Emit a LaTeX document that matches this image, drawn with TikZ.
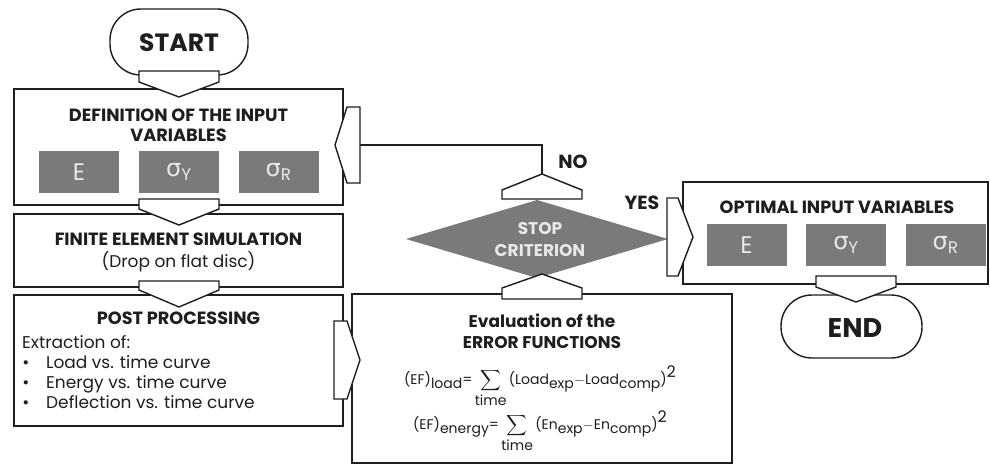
\documentclass[tikz,border=0pt]{standalone}
\usepackage{fontspec}
\usepackage{amsmath}
\setmainfont{Poppins}
\newfontfamily\dvs{DejaVu Sans}
\usetikzlibrary{calc}
\definecolor{gb}{HTML}{7A7A7A}
\definecolor{gt}{HTML}{E8E8E8}
\definecolor{ln}{HTML}{1E1E1E}
\newcommand\varrow[4]{\draw[parr] ({#1-40},#2) -- ({#1+40},#2) -- ({#1+40},#3) -- (#1,#4) -- ({#1-40},#3) -- cycle;}
\newcommand\harrow[5]{\draw[parr] (#2,{#1-#5}) -- (#3,{#1-#5}) -- (#4,#1) -- (#3,{#1+#5}) -- (#2,{#1+#5}) -- cycle;}
\newcommand\sig[1]{{\dvs σ}\textsubscript{#1}}
\newcommand\dn[1]{\raisebox{-4pt}{#1}}
\newcommand\tsum{$\displaystyle\mathop{\sum}\limits_{\mbox{\fontsize{14}{14}\selectfont time}}$}
\begin{document}
\begin{tikzpicture}[x=1pt,y=-1pt,
  box/.style={draw=ln, line width=1.4pt, fill=white, inner sep=0pt},
  pill/.style={draw=ln, line width=1.4pt, fill=white, inner sep=0pt, rounded corners=31pt},
  gbox/.style={fill=gb, inner sep=0pt, minimum width=80pt, minimum height=42pt, text=gt, font=\fontsize{24}{24}\selectfont},
  parr/.style={draw=ln, line width=1.4pt, fill=white, line join=miter},
  conn/.style={draw=ln, line width=1.4pt},
  hd/.style={font=\bfseries\fontsize{17.7}{20}\selectfont, align=center, text=ln, inner sep=0pt},
  bd/.style={font=\fontsize{17}{20}\selectfont, text=ln, inner sep=0pt},
  bul/.style={font=\fontsize{17}{20}\selectfont, text=ln, inner sep=0pt, anchor=base},
  li/.style={font=\fontsize{17}{20}\selectfont, text=ln, inner sep=0pt, anchor=base west},
  lbl/.style={font=\bfseries\fontsize{19}{19}\selectfont, text=ln, inner sep=0pt}]
\useasboundingbox (0,0) rectangle (990,465);
% boxes
\node[pill, minimum width=138pt, minimum height=66pt] (start) at (179,42) {};
\node[font=\bfseries\fontsize{25}{25}\selectfont, text=ln, inner sep=0pt] (starttxt) at (179,43) {START};
\node[box, minimum width=329pt, minimum height=116pt] (def) at (178.5,147) {};
\node[hd] (deft) at (178.5,125) {DEFINITION OF THE INPUT\\VARIABLES};
\node[gbox] (d1) at (79,172) {E};
\node[gbox] (d2) at (179,172) {\sig{Y}};
\node[gbox] (d3) at (278.5,172) {\sig{R}};
\node[box, minimum width=329pt, minimum height=73pt] (fes) at (178.5,250.5) {};
\node[hd] (fest) at (178.5,239) {FINITE ELEMENT SIMULATION};
\node[bd] (fesb) at (178.5,262) {(Drop on flat disc)};
\node[box, minimum width=329pt, minimum height=131pt] (pp) at (178.5,360.5) {};
\node[hd] (ppt) at (178.5,318) {POST PROCESSING};
\node[li] (ppx) at (22,348) {Extraction of:};
\node[bul] (b1) at (26,368) {•};
\node[li] (l1) at (46,368) {Load vs. time curve};
\node[bul] (b2) at (26,388) {•};
\node[li] (l2) at (46,388) {Energy vs. time curve};
\node[bul] (b3) at (26,408) {•};
\node[li] (l3) at (46,408) {Deflection vs. time curve};
\node[box, minimum width=380pt, minimum height=169pt] (ev) at (542,378.5) {};
\node[hd, font=\bfseries\fontsize{17}{21}\selectfont] (evt) at (542,331) {Evaluation of the\\ERROR FUNCTIONS};
\node[inner sep=0pt, text=ln, font=\fontsize{14}{16}\selectfont] (f1) at (540,386)
  {(EF)\dn{load}=\,\tsum\,(Load\dn{exp}$-$Load\dn{comp})\raisebox{7pt}{\fontsize{16}{16}\selectfont 2}};
\node[inner sep=0pt, text=ln, font=\fontsize{14}{16}\selectfont] (f2) at (540,431)
  {(EF)\dn{energy}=\,\tsum\,(En\dn{exp}$-$En\dn{comp})\raisebox{7pt}{\fontsize{16}{16}\selectfont 2}};
\fill[gb] (406,239) -- (537,200) -- (668,239) -- (537,278) -- cycle;
\node[font=\bfseries\fontsize{17}{22}\selectfont, text=gt, align=center, inner sep=0pt] (stop) at (540,240) {STOP\\CRITERION};
\node[box, minimum width=305pt, minimum height=102pt] (opt) at (835.5,233) {};
\node[hd] (optt) at (837,207) {OPTIMAL INPUT VARIABLES};
\node[gbox] (o1) at (746.5,245) {E};
\node[gbox] (o2) at (846,245) {\sig{Y}};
\node[gbox] (o3) at (945.5,245) {\sig{R}};
\node[pill, minimum width=141pt, minimum height=63pt] (end) at (851.5,326.5) {};
\node[font=\bfseries\fontsize{27}{27}\selectfont, text=ln, inner sep=0pt] (endtxt) at (855,328) {END};
\node[lbl] (no) at (573,162) {NO};
\node[lbl] (yes) at (642,203) {YES};
% connectors
\coordinate (noTip) at (542,174);
\coordinate (fbIn) at (360,145);
\draw[conn] (noTip) |- (fbIn);
\varrow{179}{71}{82}{97}
\varrow{179}{199}{209}{225}
\varrow{179}{281}{290}{307}
\varrow{856}{276}{287}{302}
\varrow{542}{299}{288}{274}
\varrow{542}{199}{190}{174}
\harrow{360}{334}{347}{360}{39}
\harrow{237}{667}{678}{693}{39}
\harrow{145}{360}{347}{335}{38}
\end{tikzpicture}
\end{document}
